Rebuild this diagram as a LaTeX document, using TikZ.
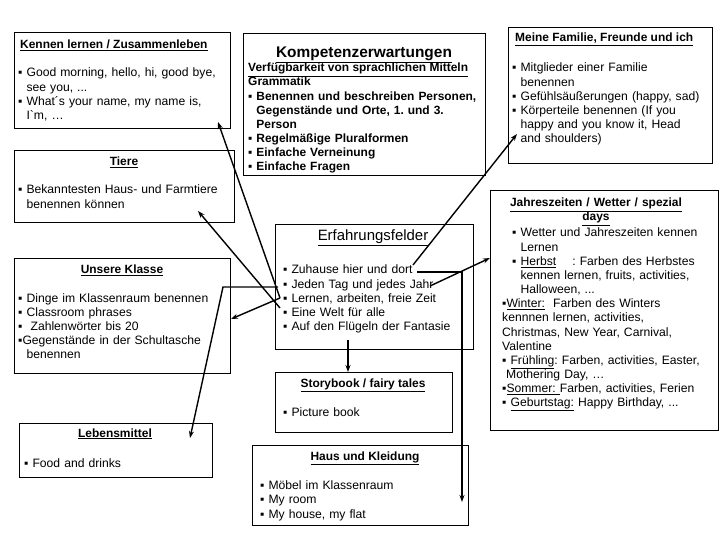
\documentclass[tikz,border=0pt]{standalone}
\usepackage{fontspec}
\setmainfont{Liberation Sans}
\usetikzlibrary{arrows.meta}
\newcommand{\hg}{\leavevmode\hphantom{▪\ }}
\newcommand{\bl}{▪\ }
\frenchspacing
\tikzset{
 boxst/.style={draw, line width=0.8bp, inner sep=0pt, anchor=north west},
 ttl/.style={font=\bfseries\fontsize{12}{14}\selectfont, inner sep=0pt, anchor=base},
 ttlw/.style={ttl, anchor=base west},
 bodyt/.style={font=\fontsize{12.2}{14.2}\selectfont, text width=215bp, align=left, inner sep=0pt, anchor=base west},
 kompt/.style={bodyt, font=\bfseries\fontsize{12}{14.2}\selectfont, text width=236bp},
 conn/.style={line width=1.4bp, -{Stealth[length=7bp,width=5bp]}},
}
\begin{document}
\begin{tikzpicture}[x=1bp,y=-1bp]
\useasboundingbox[fill=white] (0,0) rectangle (720,540);
% boxes
\node[boxst, minimum width=216bp, minimum height=96bp] (kennen) at (14,32) {};
\node[boxst, minimum width=220bp, minimum height=72bp] (tiere) at (14,150) {};
\node[boxst, minimum width=216bp, minimum height=115bp] (klasse) at (14,258) {};
\node[boxst, minimum width=193bp, minimum height=54bp] (leben) at (19,423) {};
\node[boxst, minimum width=242bp, minimum height=142bp] (komp) at (243,33) {};
\node[boxst, minimum width=204bp, minimum height=136bp] (fam) at (508,27) {};
\node[boxst, minimum width=228bp, minimum height=240bp] (jahr) at (490,190) {};
\node[boxst, minimum width=198bp, minimum height=125bp] (erf) at (275,224) {};
\node[boxst, minimum width=177bp, minimum height=60bp] (story) at (275,372) {};
\node[boxst, minimum width=216bp, minimum height=80bp] (haus) at (252,445) {};
% Kennen lernen
\node[ttlw] (kennenT) at (20,49) {\underline{Kennen lernen / Zusammenleben}};
\node[bodyt] (kennenB) at (18,77) {\bl Good morning, hello, hi, good bye,\\ \hg see you, ...\\ \bl What´s your name, my name is,\\ \hg I\textasciigrave m, …};
% Tiere
\node[ttl] (tiereT) at (124,166) {\underline{Tiere}};
\node[bodyt] (tiereB) at (18,194) {\bl Bekanntesten Haus- und Farmtiere\\ \hg benennen können};
% Unsere Klasse
\node[ttl] (klasseT) at (122,274) {\underline{Unsere Klasse}};
\node[bodyt] (klasseB) at (18,302) {\bl Dinge im Klassenraum benennen\\ \bl Classroom phrases\\ \bl\ Zahlenwörter bis 20\\ ▪Gegenstände in der Schultasche\\ \hg benennen};
% Lebensmittel
\node[ttl] (lebenT) at (115,437) {\underline{Lebensmittel}};
\node[bodyt] (lebenB) at (24,467) {\bl Food and drinks};
% Kompetenzerwartungen
\node[ttl, font=\bfseries\fontsize{15.5}{17}\selectfont] (kompT) at (364,58) {\underline{Kompetenzerwartungen}};
\node[ttlw] (kompS) at (248,72) {\underline{Verfügbarkeit von sprachlichen Mitteln}};
\node[kompt] (kompB) at (248,86) {Grammatik\\ \bl Benennen und beschreiben Personen,\\ \hg Gegenstände und Orte, 1. und 3.\\ \hg Person\\ \bl Regelmäßige Pluralformen\\ \bl Einfache Verneinung\\ \bl Einfache Fragen};
% Meine Familie
\node[ttlw] (famT) at (515,42) {\underline{Meine Familie, Freunde und ich}};
\node[bodyt, text width=200bp] (famB) at (512,72) {\bl Mitglieder einer Familie\\ \hg benennen\\ \bl Gefühlsäußerungen (happy, sad)\\ \bl Körperteile benennen (If you\\ \hg happy and you know it, Head\\ \hg and shoulders)};
% Jahreszeiten
\node[ttl, text width=210bp, align=center] (jahrT) at (596,207) {\underline{Jahreszeiten / Wetter / spezial}\\ \underline{days}};
\node[bodyt] (jahrB) at (502,237) {\hspace*{10bp}\bl Wetter und Jahreszeiten kennen\\
 \hspace*{10bp}\hg Lernen\\
 \hspace*{10bp}\bl \underline{Herbst}\hspace{16bp}: Farben des Herbstes\\
 \hspace*{10bp}\hg kennen lernen, fruits, activities,\\
 \hspace*{10bp}\hg Halloween, ...\\
 ▪\underline{Winter:}\ \ Farben des Winters\\
 kennnen lernen, activities,\\
 Christmas, New Year, Carnival,\\
 Valentine\\
 ▪ \underline{Frühling}: Farben, activities, Easter,\\
 \hspace*{4bp}Mothering Day, …\\
 ▪\underline{Sommer:\ }Farben, activities, Ferien\\
 ▪ \underline{Geburtstag:} Happy Birthday, ...};
% Erfahrungsfelder
\node[ttl, font=\fontsize{15}{17}\selectfont] (erfT) at (373,241) {\underline{Erfahrungsfelder}};
\node[bodyt, text width=185bp] (erfB) at (283,274) {\bl Zuhause hier und dort\\ \bl Jeden Tag und jedes Jahr\\ \bl Lernen, arbeiten, freie Zeit\\ \bl Eine Welt für alle\\ \bl Auf den Flügeln der Fantasie};
% Storybook
\node[ttl] (storyT) at (363,387) {\underline{Storybook / fairy tales}};
\node[bodyt, text width=160bp] (storyB) at (283,416) {\bl Picture book};
% Haus und Kleidung
\node[ttl] (hausT) at (365,460) {\underline{Haus und Kleidung}};
\node[bodyt, text width=200bp, font=\fontsize{12.2}{15}\selectfont] (hausB) at (260,489) {\bl Möbel im Klassenraum\\ \bl My room\\ \bl My house, my flat};
% connector points
\coordinate (pL) at (280,298);
\coordinate (kennenTip) at (218,122);
\coordinate (klasseTip) at (231,319);
\coordinate (pT) at (280,308);
\coordinate (tiereTip) at (198,211);
\coordinate (pLe) at (278,287);
\coordinate (bendLe) at (223,287);
\coordinate (lebenTip) at (190,438);
\coordinate (pF) at (413,265);
\coordinate (famTip) at (517,134);
\coordinate (pJ) at (430,286);
\coordinate (jahrTip) at (490,258);
\coordinate (pH) at (417,272);
\coordinate (bendH) at (462,272);
\coordinate (hausTip) at (462,502);
\coordinate (pS) at (348,340);
% connectors
\draw[conn] (pL) -- (kennenTip);
\draw[conn] (pL) -- (klasseTip);
\draw[conn] (pT) -- (tiereTip);
\draw[conn] (pLe) -- (bendLe) -- (lebenTip);
\draw[conn] (pF) -- (famTip);
\draw[conn] (pJ) -- (jahrTip);
\draw[conn] (pH) -- (bendH) -- (hausTip);
\draw[conn] (pS) -- (pS |- story.north);
\end{tikzpicture}
\end{document}
